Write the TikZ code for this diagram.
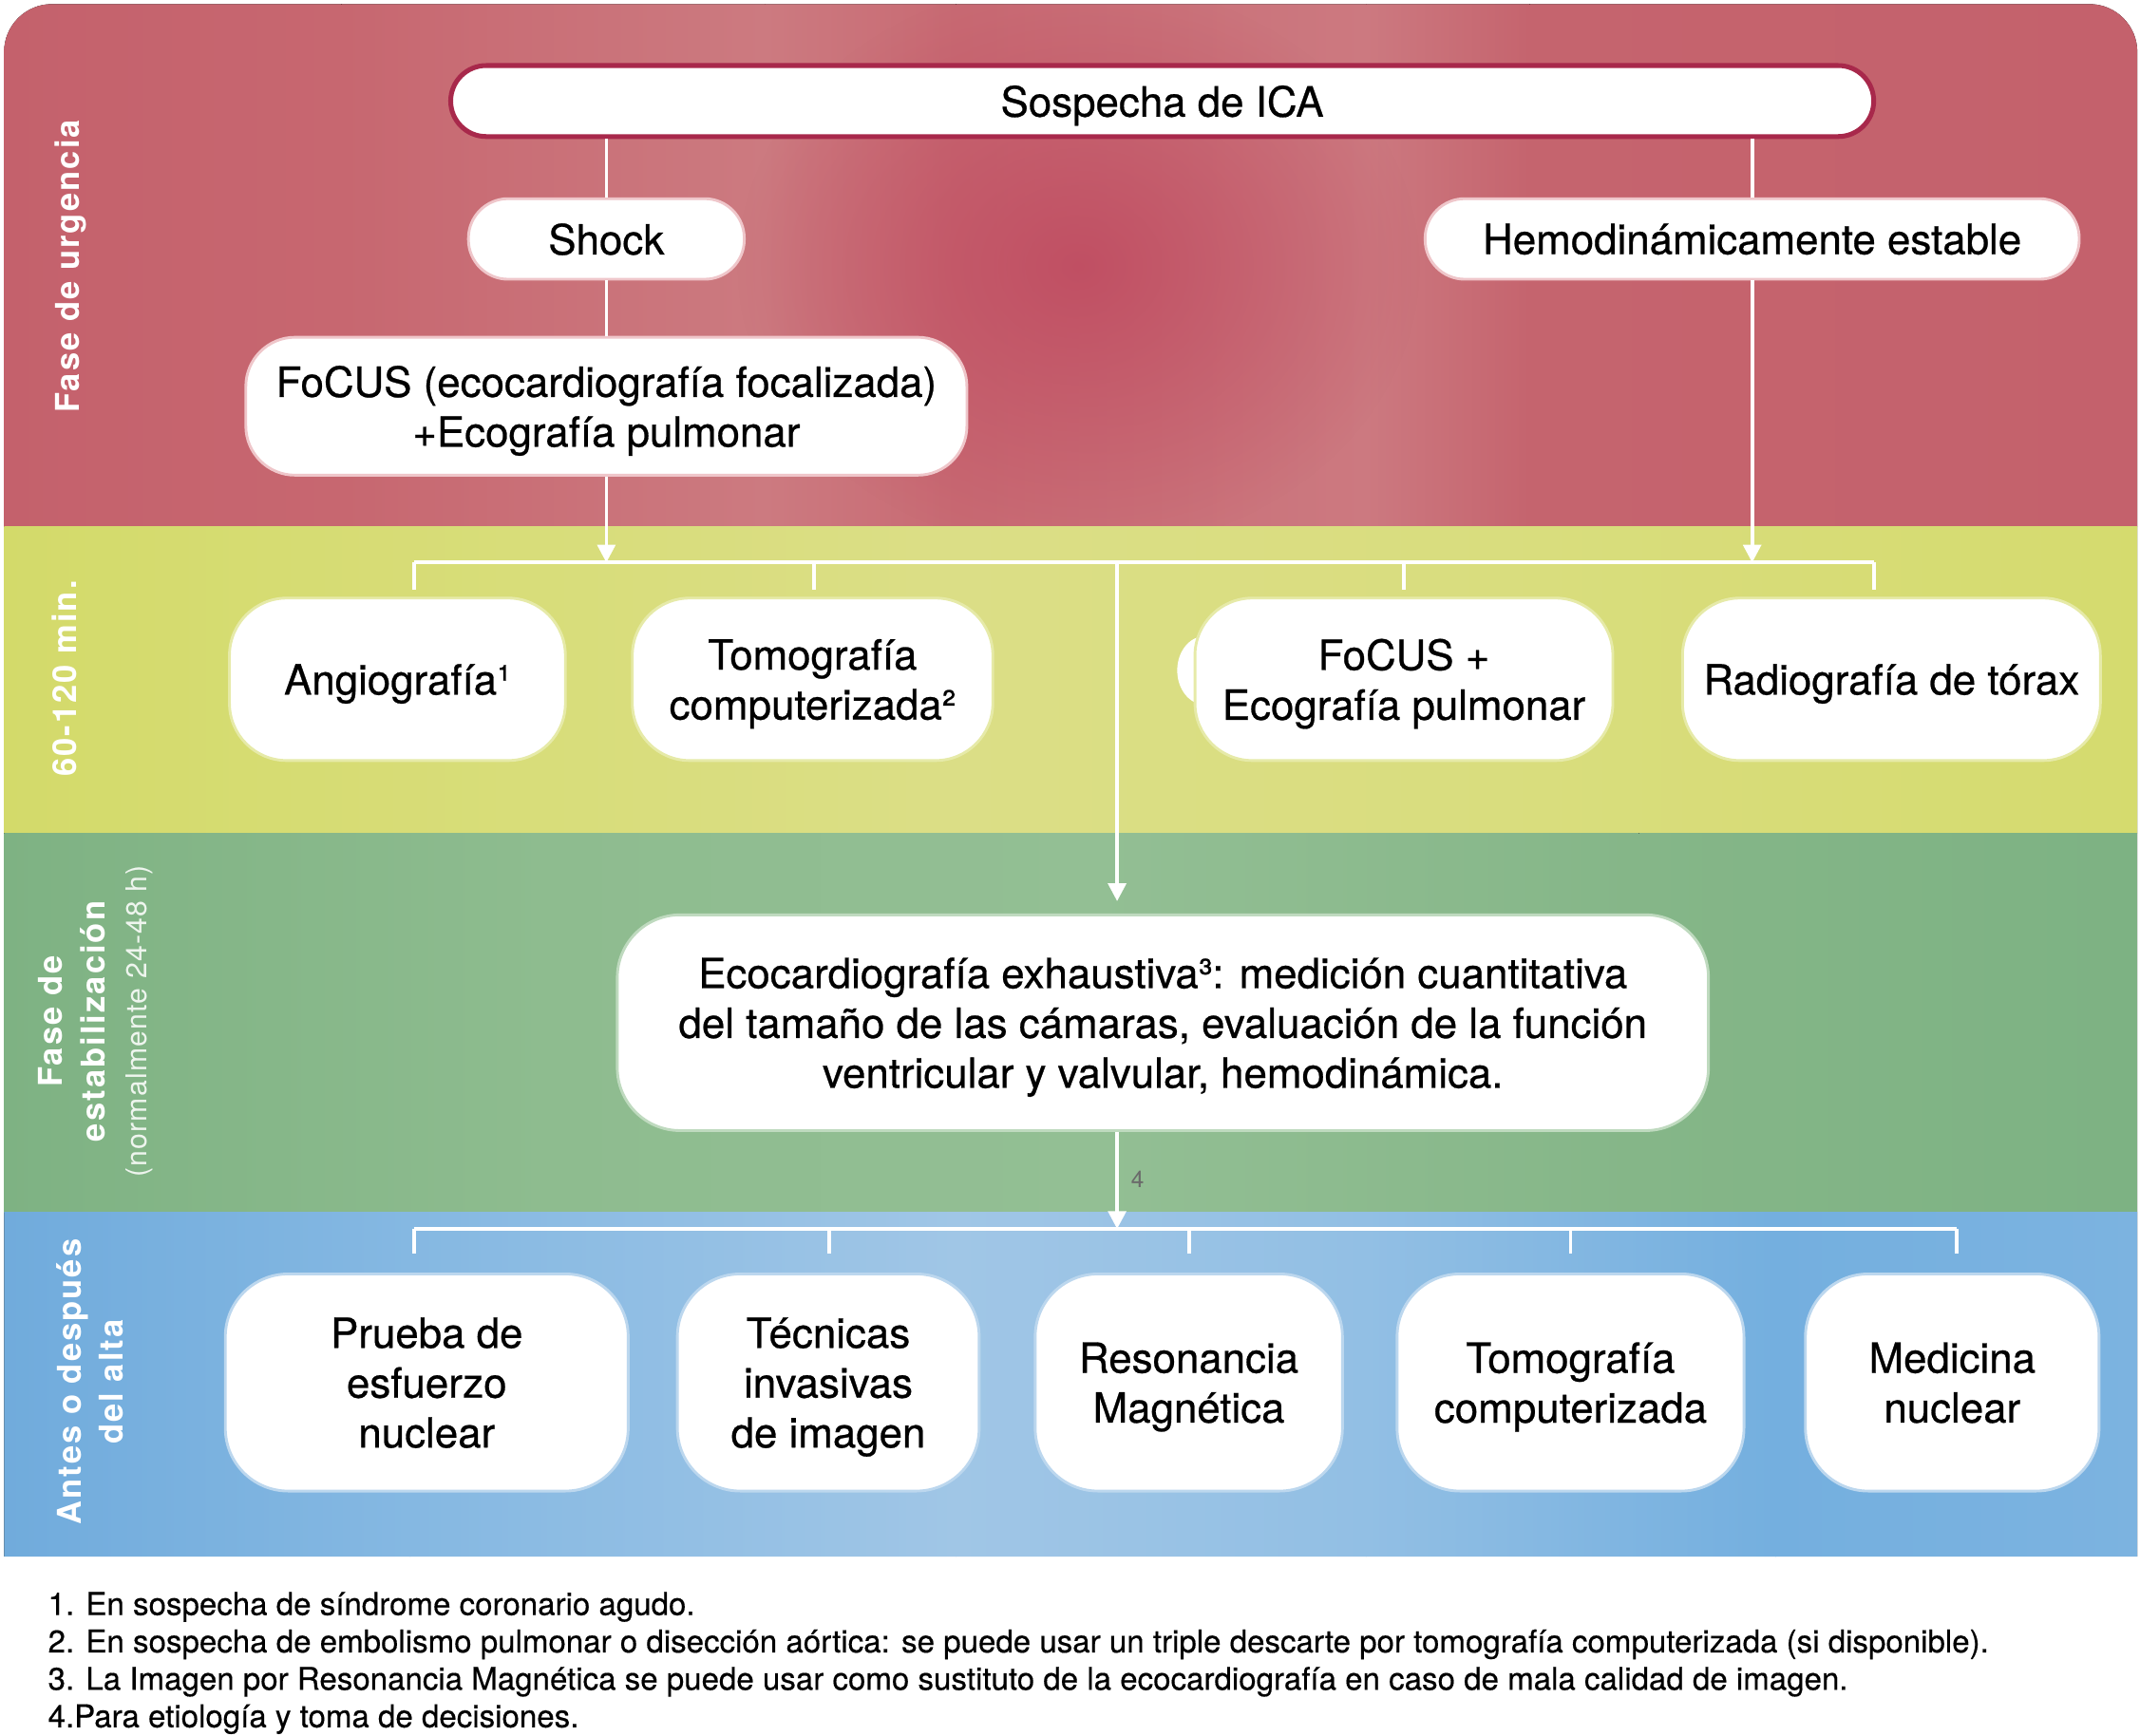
\documentclass[tikz,border=0pt]{standalone}
\usepackage{fontspec}
\setmainfont{TeX Gyre Heros}
\usetikzlibrary{arrows.meta,fadings}
\definecolor{rA}{HTML}{C4616C}\definecolor{rB}{HTML}{C76770}\definecolor{rC}{HTML}{CC7A80}
\definecolor{rD}{HTML}{C86A73}\definecolor{rE}{HTML}{CC7980}\definecolor{rF}{HTML}{C5646E}
\definecolor{rSpot}{HTML}{BF4A60}
\definecolor{yA}{HTML}{D3DA6A}\definecolor{yB}{HTML}{D6DC72}\definecolor{yC}{HTML}{DBDE86}
\definecolor{yD}{HTML}{D9DD7E}\definecolor{yE}{HTML}{D5DB6E}
\definecolor{gA}{HTML}{7EB283}\definecolor{gB}{HTML}{8EBC8F}\definecolor{gC}{HTML}{93BF94}
\definecolor{gD}{HTML}{85B688}\definecolor{gE}{HTML}{7DB283}
\definecolor{bA}{HTML}{70ABDC}\definecolor{bB}{HTML}{85B8E2}\definecolor{bC}{HTML}{A0C6E6}
\definecolor{bD}{HTML}{92BFE4}\definecolor{bE}{HTML}{74AFDF}\definecolor{bF}{HTML}{7CB3E0}
\definecolor{icaborder}{HTML}{A8284B}
\definecolor{edgeR}{HTML}{EFC6CA}\definecolor{edgeY}{HTML}{E6EAA8}
\definecolor{edgeG}{HTML}{BFDABF}\definecolor{edgeB}{HTML}{BCD7EE}
\definecolor{txtgray}{HTML}{6A6A6A}
\newcommand\fsmain{\fontsize{30.5}{36.5}\selectfont\addfontfeatures{FakeBold=0.6}}
\newcommand\fslab{\fontsize{24}{31}\selectfont\bfseries\addfontfeatures{LetterSpace=6}}
\tikzfading[name=spotfade, inner color=transparent!15, outer color=transparent!100]
\begin{document}
\begin{tikzpicture}[x=1pt,y=-1pt,
  mbox/.style={rectangle, fill=white, align=center, font=\fsmain, inner sep=0pt, line width=2pt, text depth=0pt},
  rbox/.style={mbox, draw=edgeR},
  ybox/.style={mbox, draw=edgeY, minimum height=119pt, rounded corners=42pt},
  gbox/.style={mbox, draw=edgeG},
  bbox/.style={mbox, draw=edgeB, minimum height=159pt, rounded corners=46pt},
  conn/.style={draw=white, line width=2.6pt},
  arr/.style={conn, -{Triangle[width=13pt,length=13pt]}},
  sidelab/.style={rotate=90, text=white, font=\fslab, align=center, inner sep=0pt}]
\useasboundingbox (0,0) rectangle (1567,1271);
\fill[white] (0,0) rectangle (1567,1271);
% panel with bands
\begin{scope}
\clip (3,1140) -- (3,38) arc[start angle=180, end angle=270, radius=35]
  -- (1530,3) arc[start angle=270, end angle=360, radius=35] -- (1565,1140) -- cycle;
% red band
\fill[left color=rA, right color=rB] (0,0) rectangle (250.5,386);
\fill[left color=rB, right color=rC] (250,0) rectangle (560.5,386);
\fill[left color=rC, right color=rD] (560,0) rectangle (700.5,386);
\fill[left color=rD, right color=rE] (700,0) rectangle (1000.5,386);
\fill[left color=rE, right color=rF] (1000,0) rectangle (1120.5,386);
\fill[left color=rF, right color=rA] (1120,0) rectangle (1567,386);
\fill[rSpot, path fading=spotfade] (790,195) ellipse [x radius=250, y radius=210];
% yellow band
\fill[left color=yA, right color=yB] (0,386) rectangle (200.5,610);
\fill[left color=yB, right color=yC] (200,386) rectangle (700.5,610);
\fill[left color=yC, right color=yD] (700,386) rectangle (1100.5,610);
\fill[left color=yD, right color=yE] (1100,386) rectangle (1567,610);
% green band
\fill[left color=gA, right color=gB] (0,610) rectangle (400.5,888);
\fill[left color=gB, right color=gC] (400,610) rectangle (800.5,888);
\fill[left color=gC, right color=gD] (800,610) rectangle (1200.5,888);
\fill[left color=gD, right color=gE] (1200,610) rectangle (1567,888);
% blue band
\fill[left color=bA, right color=bB] (0,888) rectangle (300.5,1140);
\fill[left color=bB, right color=bC] (300,888) rectangle (700.5,1140);
\fill[left color=bC, right color=bD] (700,888) rectangle (1000.5,1140);
\fill[left color=bD, right color=bE] (1000,888) rectangle (1300.5,1140);
\fill[left color=bE, right color=bF] (1300,888) rectangle (1567,1140);
\end{scope}
% side labels
\node[sidelab] (lab1) at (52,195) {Fase de urgencia};
\node[sidelab] (lab2) at (47,497) {60-120 min.};
\node[sidelab] (lab3) at (70,748) {Fase de\\estabilización\\{\fontsize{21}{31}\selectfont\mdseries\addfontfeatures{LetterSpace=4}\color{white!85!gB}(normalmente 24-48 h)}};
\node[sidelab] (lab4) at (66,1012) {Antes o después\\del alta};
% urgency nodes
\node[mbox, draw=icaborder, line width=3.5pt, minimum width=1042pt, minimum height=52pt, rounded corners=26pt] (ica) at (851,74) {Sospecha de ICA};
\node[rbox, minimum width=202pt, minimum height=59pt, rounded corners=29pt] (shock) at (444,175) {Shock};
\node[rbox, minimum width=479pt, minimum height=59pt, rounded corners=29pt] (hemo) at (1283,175) {Hemodinámicamente estable};
\node[rbox, minimum width=528pt, minimum height=101pt, rounded corners=36pt, text depth=-3pt] (focus) at (444,297.5) {FoCUS (ecocardiografía focalizada)\\+Ecografía pulmonar};
% 60-120 nodes
\node[ybox, minimum width=246pt] (angio) at (291,497.5) {Angiografía¹};
\node[ybox, minimum width=264pt] (tomo) at (595,497.5) {Tomografía\\computerizada²};
\fill[white] (882,491) ellipse [x radius=20, y radius=25];
\node[ybox, minimum width=306pt] (focus2) at (1028,497.5) {FoCUS +\\Ecografía pulmonar};
\node[ybox, minimum width=306pt] (radio) at (1385,497.5) {Radiografía de tórax};
% stabilization node
\node[gbox, minimum width=799pt, minimum height=158pt, rounded corners=46pt, text depth=-4pt] (eco) at (851.5,749) {Ecocardiografía exhaustiva³: medición cuantitativa\\del tamaño de las cámaras, evaluación de la función\\ventricular y valvular, hemodinámica.};
% discharge nodes
\node[bbox, minimum width=295pt, text depth=-3pt] (prueba) at (312.5,1012.5) {Prueba de\\esfuerzo\\nuclear};
\node[bbox, minimum width=221pt] (tecn) at (606.5,1012.5) {Técnicas\\invasivas\\de imagen};
\node[bbox, minimum width=225pt, text depth=-9pt] (reso) at (870.5,1012.5) {Resonancia\\Magnética};
\node[bbox, minimum width=254pt, text depth=-3pt] (tomo2) at (1150,1012.5) {Tomografía\\computerizada};
\node[bbox, minimum width=215pt, text depth=-8pt] (medi) at (1429.5,1012.5) {Medicina\\nuclear};
% bus coordinates
\coordinate (b1L) at (303,412); \coordinate (b1R) at (1372,412); \coordinate (b1M) at (818,412);
\coordinate (ecoIn) at (818,660);
\coordinate (b2L) at (303,900); \coordinate (b2R) at (1433,900); \coordinate (b2M) at (818,900);
\coordinate (dA) at (303,432); \coordinate (dB) at (596,432); \coordinate (dC) at (1028,432); \coordinate (dD) at (1372,432);
\coordinate (eA) at (303,918); \coordinate (eB) at (607,918); \coordinate (eC) at (871,918); \coordinate (eD) at (1150,918); \coordinate (eE) at (1433,918);
% connectors
\draw[conn] (ica.south -| shock.north) -- (shock.north);
\draw[conn] (shock.south) -- (focus.north);
\draw[conn] (ica.south -| hemo.north) -- (hemo.north);
\draw[conn] (b1L) -- (b1R);
\foreach \d in {dA,dB,dC,dD} \draw[conn] (\d |- b1L) -- (\d);
\draw[arr] (focus.south) -- (focus.south |- b1L);
\draw[arr] (hemo.south) -- (hemo.south |- b1L);
\draw[arr] (b1M) -- (ecoIn);
\draw[conn] (b2L) -- (b2R);
\foreach \d in {eA,eB,eC,eD,eE} \draw[conn] (\d |- b2L) -- (\d);
\draw[arr] (eco.south -| b2M) -- (b2M);
\node[font=\fontsize{17}{19}\selectfont, text=txtgray] (n4) at (833,864) {4};
% footnotes
\node[anchor=west, align=left, inner sep=0pt, font=\fontsize{23}{27.4}\selectfont\addfontfeatures{FakeBold=0.4}] (notes) at (35,1218) {1. En sospecha de síndrome coronario agudo.\\2. En sospecha de embolismo pulmonar o disección aórtica: se puede usar un triple descarte por tomografía computerizada (si disponible).\\3. La Imagen por Resonancia Magnética se puede usar como sustituto de la ecocardiografía en caso de mala calidad de imagen.\\4.Para etiología y toma de decisiones.};
\end{tikzpicture}
\end{document}
